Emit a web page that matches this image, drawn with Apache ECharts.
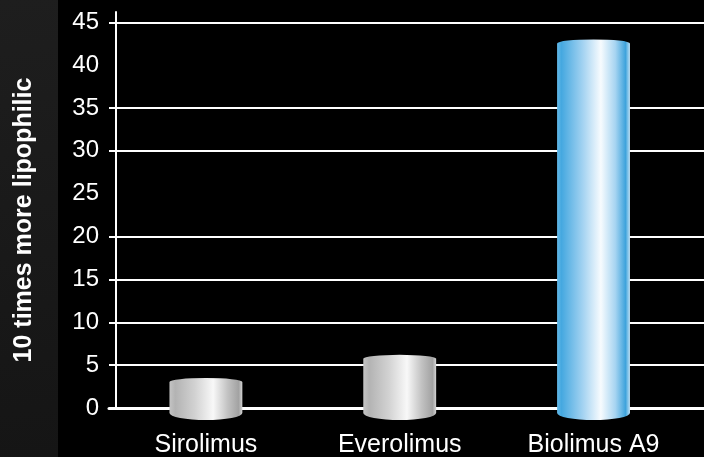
<!DOCTYPE html>
<html>
<head>
<meta charset="utf-8">
<script src="https://cdn.jsdelivr.net/npm/echarts@6/dist/echarts.min.js"></script>
<style>
  html, body { margin: 0; padding: 0; background: #000; }
  #chart { width: 704px; height: 457px; }
</style>
</head>
<body>
<div id="chart"></div>
<script>
// Drug names along the x axis
const categories = ['Sirolimus', 'Everolimus', 'Biolimus A9'];
// Relative lipophilicity of each drug
const lipophilicity = [3.5, 6.2, 43];
// Tick labels on the y axis
const yTicks = [0, 5, 10, 15, 20, 25, 30, 35, 40, 45];
// Ticks that carry a horizontal grid line
const gridTicks = [0, 5, 10, 15, 20, 30, 35, 45];

const FONT = '"Liberation Sans", Arial, sans-serif';

// Horizontal shading that gives each bar its cylinder look
const grayStops = [
  { offset: 0, color: '#c4c4c4' },
  { offset: 0.08, color: '#b3b3b3' },
  { offset: 0.35, color: '#d2d2d2' },
  { offset: 0.6, color: '#f8f8f8' },
  { offset: 0.8, color: '#c2c2c2' },
  { offset: 0.95, color: '#a2a2a2' },
  { offset: 1, color: '#d4d4d4' }
];
const blueStops = [
  { offset: 0, color: '#62b8e8' },
  { offset: 0.06, color: '#45a8e0' },
  { offset: 0.35, color: '#a2d2f1' },
  { offset: 0.6, color: '#f7fbfe' },
  { offset: 0.8, color: '#a6d4f1' },
  { offset: 0.94, color: '#3ea3dc' },
  { offset: 1, color: '#bfe1f5' }
];
const barShades = [grayStops, grayStops, blueStops];

const chart = echarts.init(document.getElementById('chart'), null, { renderer: 'canvas' });

const option = {
  backgroundColor: '#000',
  animation: false,
  grid: { left: 109, right: 0, top: 12, bottom: 49, outerBoundsMode: 'none', containLabel: false },
  graphic: [
    {
      type: 'rect',
      z: -10,
      shape: { x: 0, y: 0, width: 58, height: 457 },
      style: {
        fill: new echarts.graphic.LinearGradient(0, 0, 1, 1, [
          { offset: 0, color: '#1e1e1e' },
          { offset: 1, color: '#151515' }
        ])
      }
    },
    {
      type: 'text',
      x: 24,
      y: 220,
      rotation: Math.PI / 2,
      style: {
        text: '10 times more lipophilic',
        fill: '#fff',
        font: 'bold 25px ' + FONT,
        align: 'center',
        verticalAlign: 'middle'
      }
    }
  ],
  xAxis: {
    type: 'value',
    min: -0.5,
    max: 2.57,
    axisLine: { show: true, onZero: false, lineStyle: { color: '#fff', width: 3 } },
    axisTick: { show: false },
    splitLine: { show: false },
    axisLabel: {
      customValues: categories.map((c, i) => i),
      formatter: v => categories[v] ?? '',
      color: '#fff',
      fontFamily: FONT,
      fontSize: 25,
      margin: 25
    }
  },
  yAxis: {
    type: 'value',
    min: 0,
    max: 46.2,
    interval: 5,
    offset: -7,
    axisLine: { show: true, onZero: false, lineStyle: { color: '#fff', width: 2 } },
    axisTick: { show: false },
    axisLabel: {
      formatter: v => (yTicks.includes(v) ? String(v) : ''),
      color: '#fff',
      fontFamily: FONT,
      fontSize: 24,
      margin: 17
    },
    splitLine: { show: false }
  },
  series: [
    {
      type: 'custom',
      clip: false,
      encode: { x: 0, y: 1 },
      data: lipophilicity.map((v, i) => [i, v]),
      markLine: {
        z: 1,
        silent: true,
        symbol: ['none', 'none'],
        label: { show: false },
        lineStyle: { color: '#fff', width: 2, type: 'solid' },
        data: gridTicks.map(t => ({ yAxis: t }))
      },
      renderItem(params, api) {
        const idx = api.value(0);
        const top = api.coord([idx, api.value(1)]);
        const base = api.coord([idx, 0]);
        const w = api.size([1, 0])[0] * 0.376;
        const rx = w / 2;
        const x0 = top[0] - rx;
        const x1 = top[0] + rx;
        const capTop = 4;      // curvature of the top rim
        const sideDrop = 5;    // sides continue a little below the baseline
        const capBottom = 7;   // curvature of the bottom rim
        const yt = top[1] + capTop;
        const yb = base[1] + sideDrop;
        const path =
          'M' + x0 + ' ' + yt +
          ' A' + rx + ' ' + capTop + ' 0 0 1 ' + x1 + ' ' + yt +
          ' L' + x1 + ' ' + yb +
          ' A' + rx + ' ' + capBottom + ' 0 0 1 ' + x0 + ' ' + yb +
          ' Z';
        return {
          type: 'path',
          z2: 10,
          shape: { pathData: path },
          style: {
            fill: new echarts.graphic.LinearGradient(0, 0, 1, 0, barShades[idx])
          }
        };
      }
    }
  ]
};

chart.setOption(option);
</script>
</body>
</html>
